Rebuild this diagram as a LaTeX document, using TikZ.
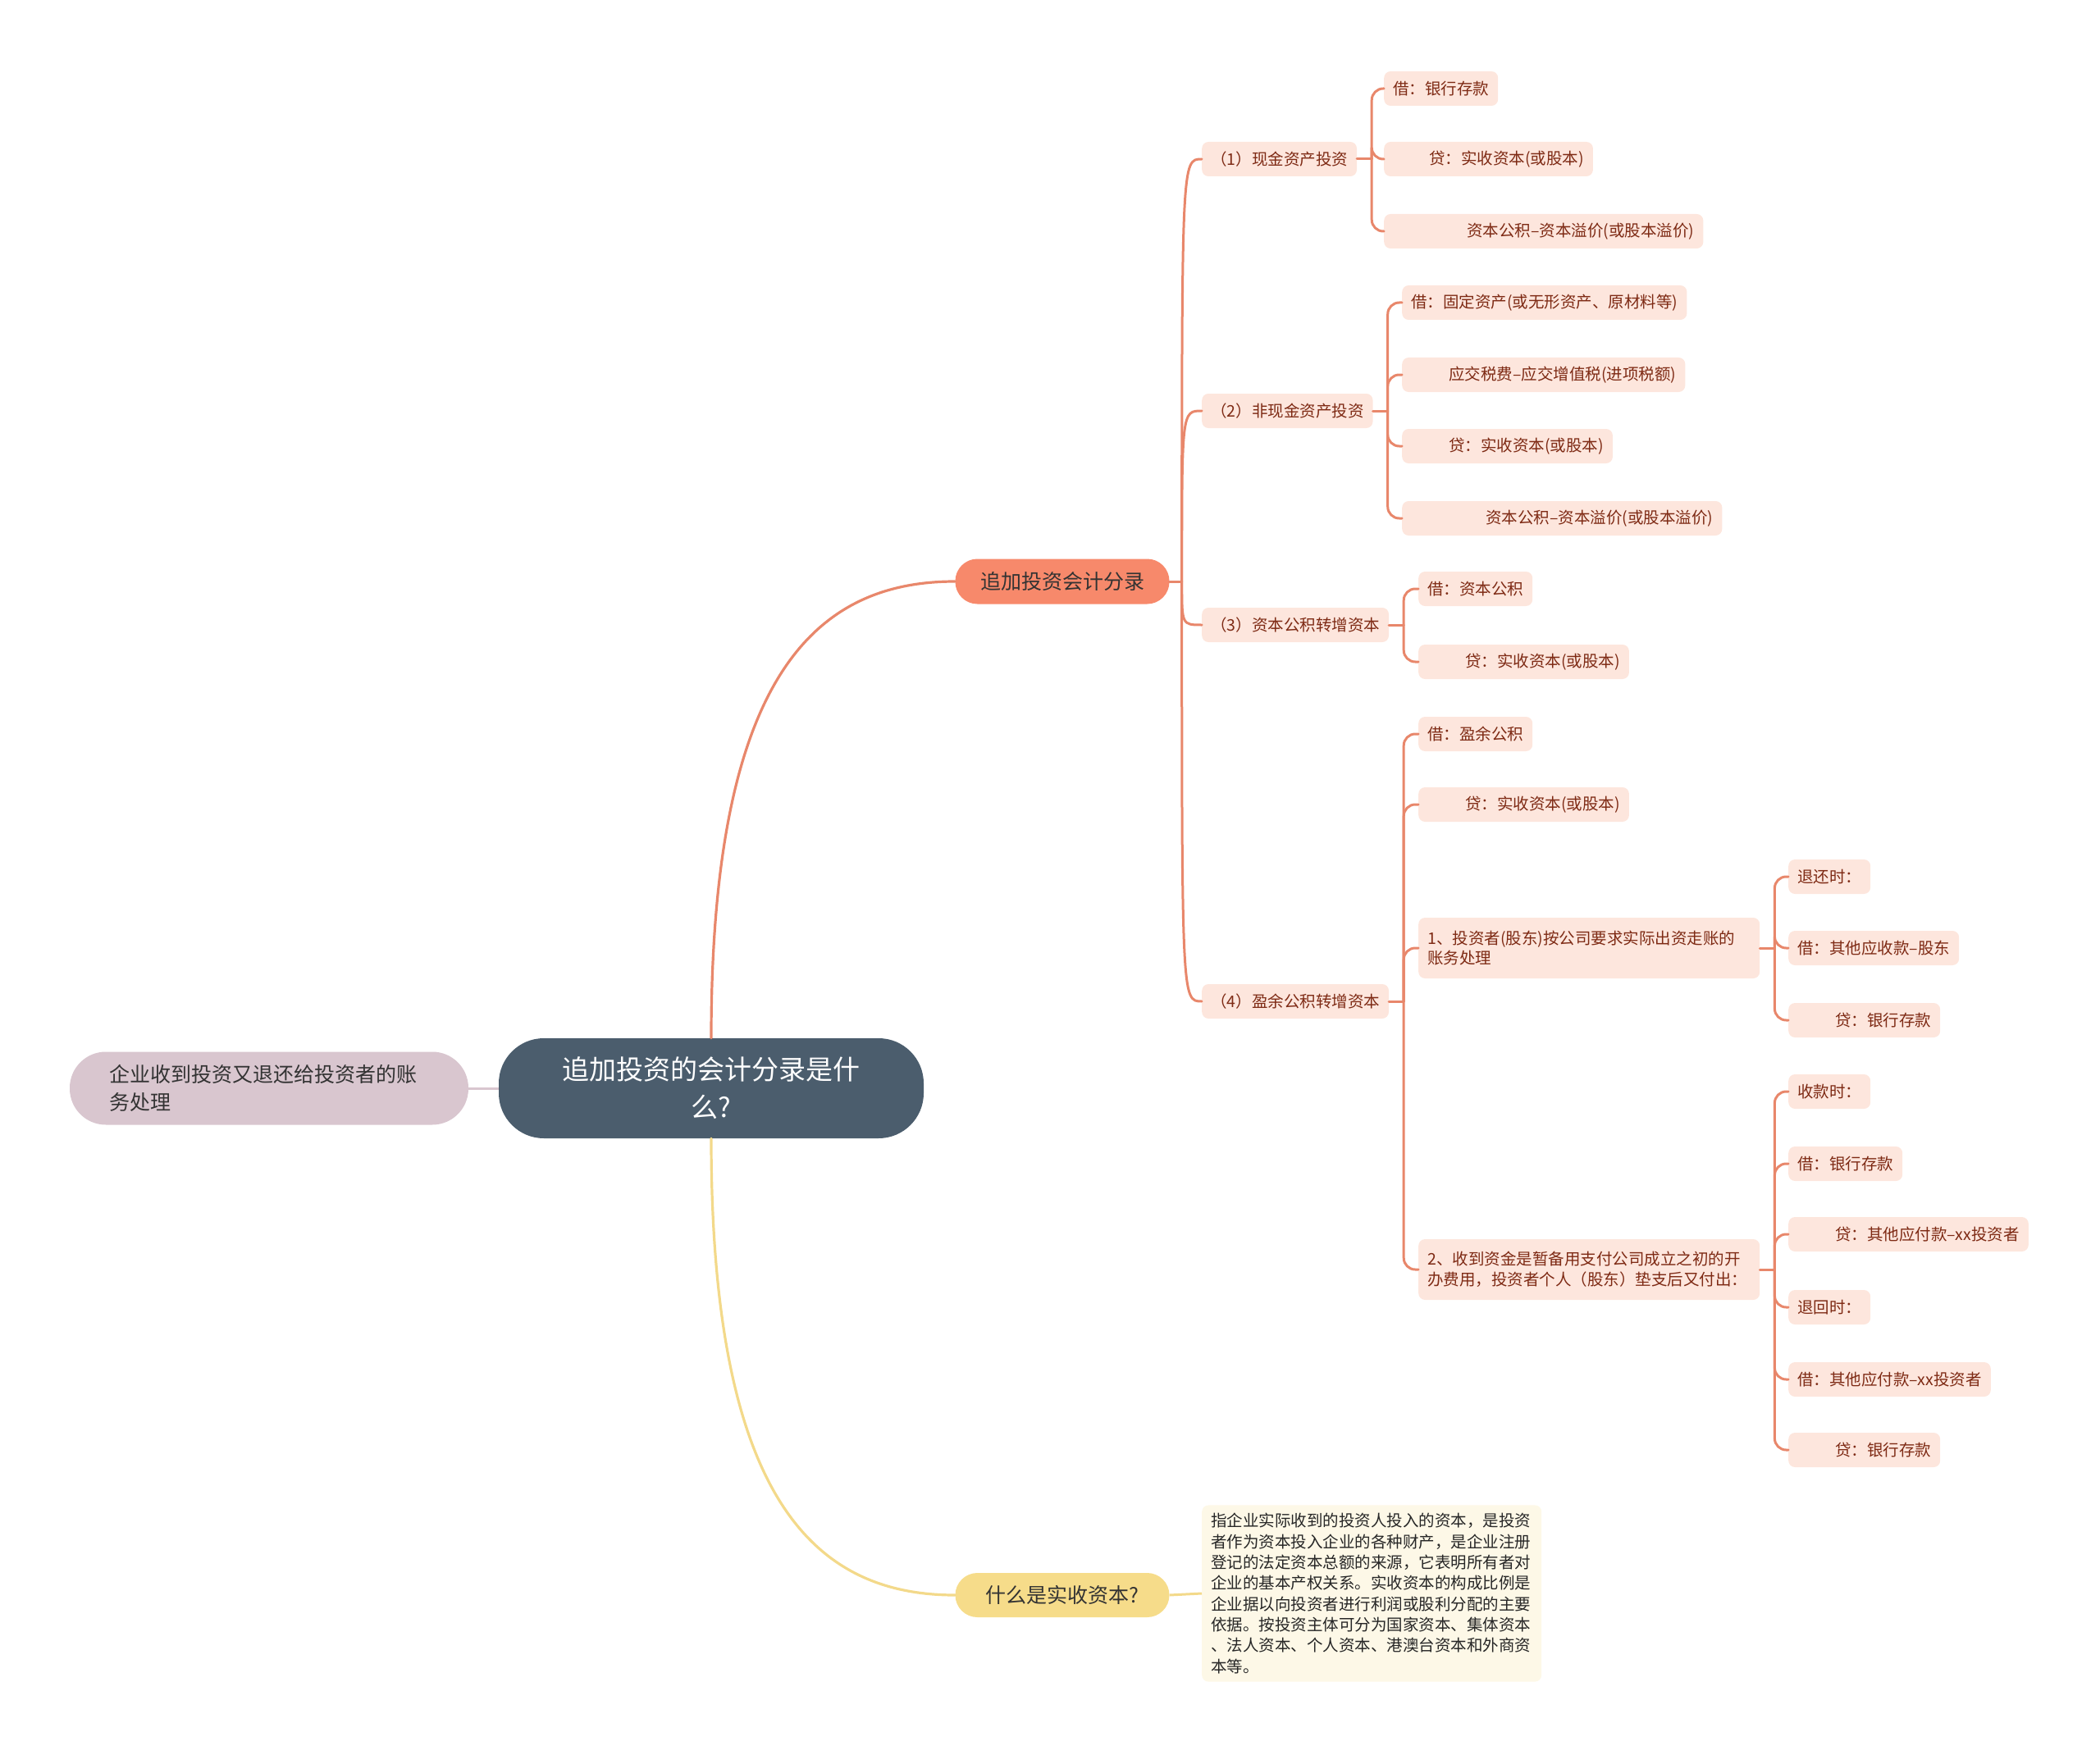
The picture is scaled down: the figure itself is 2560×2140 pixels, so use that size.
\documentclass[tikz,border=0pt]{standalone}
\usepackage{fontspec}
\setmainfont{Noto Sans CJK SC}
\usetikzlibrary{calc}
\definecolor{rootfill}{HTML}{4B5D6D}
\definecolor{mauve}{HTML}{D9C6CF}
\definecolor{coral}{HTML}{F7896B}
\definecolor{linec}{HTML}{E8876B}
\definecolor{yel}{HTML}{F6DC8A}
\definecolor{yelline}{HTML}{F3D98A}
\definecolor{leaffill}{HTML}{FDE6DD}
\definecolor{leaftext}{HTML}{7E2A14}
\definecolor{notefill}{HTML}{FDF8E7}
\definecolor{darktext}{HTML}{333333}
\begin{document}
\begin{tikzpicture}[x=1pt,y=-1pt,
  rootnode/.style={fill=rootfill, text=white, rounded corners=55pt, minimum width=518pt, minimum height=122pt, align=center, font=\fontsize{33}{46}\selectfont, inner sep=0pt},
  sidenode/.style={fill=mauve, text=darktext, rounded corners=44pt, minimum width=486pt, minimum height=89pt, text width=390pt, align=left, font=\fontsize{25}{34}\selectfont, inner sep=0pt},
  mainnode/.style={fill=coral, text=darktext, rounded corners=27pt, minimum width=261pt, minimum height=55pt, font=\fontsize{25}{30}\selectfont, inner sep=0pt},
  yelnode/.style={fill=yel, text=darktext, rounded corners=27pt, minimum width=261pt, minimum height=54pt, font=\fontsize{25}{30}\selectfont, inner sep=0pt},
  notenode/.style={fill=notefill, text=black!85, rounded corners=8pt, text width=392pt, align=left, inner xsep=11pt, inner ysep=10pt, font=\fontsize{19.5}{25.3}\selectfont, anchor=west},
  lvltwo/.style={fill=leaffill, text=leaftext, rounded corners=8pt, inner xsep=11pt, inner ysep=0pt, minimum height=42pt, font=\fontsize{19.5}{24.5}\selectfont, anchor=west},
  leaf/.style={fill=leaffill, text=leaftext, rounded corners=8pt, inner xsep=11pt, inner ysep=0pt, minimum height=42pt, font=\fontsize{19.5}{24.5}\selectfont, anchor=west},
  leafwide/.style={leaf, text width=394pt, align=left, minimum height=74pt},
  conn/.style={draw=linec, line width=3pt, line cap=round},
  elbow/.style={conn, rounded corners=14pt}
]
\useasboundingbox (0,0) rectangle (2560,2140);

% root and first level
\node[rootnode] (root) at (867,1327) {追加投资的会计分录是什\\么?};
\node[sidenode] (side) at (328,1327) {企业收到投资又退还给投资者的账\\务处理};
\node[mainnode] (add) at (1295,709) {追加投资会计分录};
\node[yelnode] (what) at (1295,1945) {什么是实收资本?};
\node[notenode] (def) at (1465,1943) {指企业实际收到的投资人投入的资本，是投资\\者作为资本投入企业的各种财产，是企业注册\\登记的法定资本总额的来源，它表明所有者对\\企业的基本产权关系。实收资本的构成比例是\\企业据以向投资者进行利润或股利分配的主要\\依据。按投资主体可分为国家资本、集体资本\\、法人资本、个人资本、港澳台资本和外商资\\本等。};

% level two
\node[lvltwo] (c1) at (1465,194) {（1）现金资产投资};
\node[lvltwo] (c2) at (1465,501) {（2）非现金资产投资};
\node[lvltwo] (c3) at (1465,762) {（3）资本公积转增资本};
\node[lvltwo] (c4) at (1465,1221) {（4）盈余公积转增资本};

% leaves of (1)
\node[leaf] (a1) at (1687,108) {借：银行存款};
\node[leaf] (a2) at (1687,194) {\hspace*{44pt}贷：实收资本(或股本)};
\node[leaf] (a3) at (1687,282) {\hspace*{90pt}资本公积–资本溢价(或股本溢价)};

% leaves of (2)
\node[leaf] (b1) at (1709,369) {借：固定资产(或无形资产、原材料等)};
\node[leaf] (b2) at (1709,457) {\hspace*{46pt}应交税费–应交增值税(进项税额)};
\node[leaf] (b3) at (1709,544) {\hspace*{46pt}贷：实收资本(或股本)};
\node[leaf] (b4) at (1709,632) {\hspace*{91pt}资本公积–资本溢价(或股本溢价)};

% leaves of (3)
\node[leaf] (d1) at (1729,718) {借：资本公积};
\node[leaf] (d2) at (1729,807) {\hspace*{46pt}贷：实收资本(或股本)};

% leaves of (4)
\node[leaf] (e1) at (1729,895) {借：盈余公积};
\node[leaf] (e2) at (1729,981) {\hspace*{46pt}贷：实收资本(或股本)};
\node[leafwide] (e3) at (1729,1156) {1、投资者(股东)按公司要求实际出资走账的\\账务处理};
\node[leafwide] (e4) at (1729,1548) {2、收到资金是暂备用支付公司成立之初的开\\办费用，投资者个人（股东）垫支后又付出：};

% leaves of 1、
\node[leaf] (f1) at (2180,1069) {退还时：};
\node[leaf] (f2) at (2180,1156) {借：其他应收款–股东};
\node[leaf] (f3) at (2180,1244) {\hspace*{46pt}贷：银行存款};

% leaves of 2、
\node[leaf] (g1) at (2180,1331) {收款时：};
\node[leaf] (g2) at (2180,1419) {借：银行存款};
\node[leaf] (g3) at (2180,1505) {\hspace*{46pt}贷：其他应付款–xx投资者};
\node[leaf] (g4) at (2180,1594) {退回时：};
\node[leaf] (g5) at (2180,1682) {借：其他应付款–xx投资者};
\node[leaf] (g6) at (2180,1768) {\hspace*{46pt}贷：银行存款};

% connectors from root
\draw[draw=mauve, line width=3pt] (side.east) -- (root.west);
\draw[conn, line width=3.2pt] (root.north) .. controls (867,830) and (990,709) .. (add.west);
\draw[draw=yelline, line width=3.2pt, line cap=round] (root.south) .. controls (867,1824) and (990,1945) .. (what.west);
\draw[draw=yelline, line width=3pt] (what.east) -- (def.west);

% level two curves
\draw[conn] (add.east) -- ++(15pt,0) coordinate (hub);
\foreach \n in {c1,c2,c3,c4}
  \draw[conn] (hub) .. controls (hub |- \n.west) and (hub |- \n.west) .. (\n.west);

% elbows
\draw[conn] (c1.east) -- ++(18pt,0) coordinate (sa);
\foreach \n in {a1,a2,a3} \draw[elbow] (sa) |- (\n.west);
\draw[conn] (c2.east) -- ++(18pt,0) coordinate (sb);
\foreach \n in {b1,b2,b3,b4} \draw[elbow] (sb) |- (\n.west);
\draw[conn] (c3.east) -- ++(18pt,0) coordinate (sd);
\foreach \n in {d1,d2} \draw[elbow] (sd) |- (\n.west);
\draw[conn] (c4.east) -- ++(18pt,0) coordinate (se);
\foreach \n in {e1,e2,e3,e4} \draw[elbow] (se) |- (\n.west);
\draw[conn] (e3.east) -- ++(18pt,0) coordinate (sf);
\foreach \n in {f1,f2,f3} \draw[elbow] (sf) |- (\n.west);
\draw[conn] (e4.east) -- ++(18pt,0) coordinate (sg);
\foreach \n in {g1,g2,g3,g4,g5,g6} \draw[elbow] (sg) |- (\n.west);
\end{tikzpicture}
\end{document}
